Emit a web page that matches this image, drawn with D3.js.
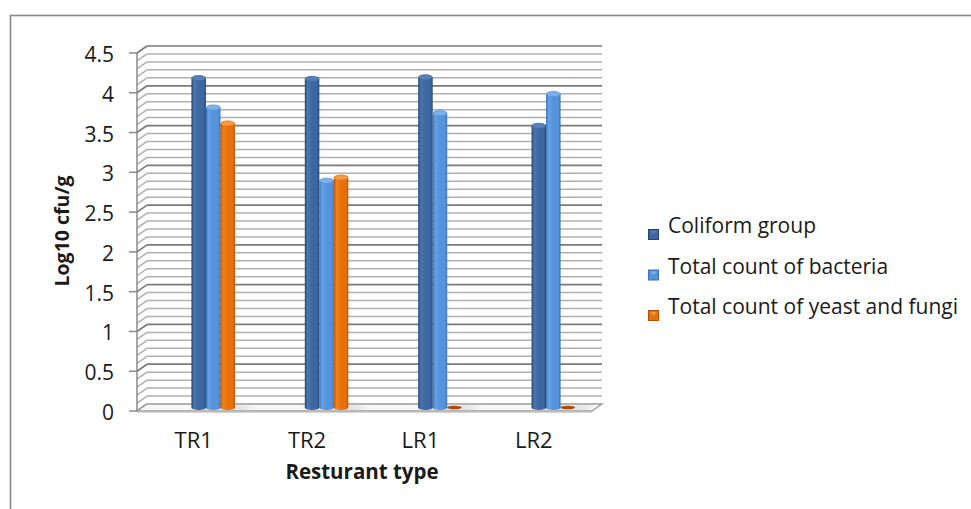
<!DOCTYPE html>
<html>
<head>
<meta charset="utf-8">
<script src="https://cdn.jsdelivr.net/npm/d3@7/dist/d3.min.js"></script>
<style>
  html, body { margin: 0; padding: 0; background: #fff; }
  svg { display: block; font-family: "Open Sans", "DejaVu Sans", sans-serif; }
</style>
</head>
<body>
<svg id="chart" width="971" height="509"></svg>
<script>
// Restaurant types and the three microbial counts (log10 cfu/g)
const categories = ["TR1", "TR2", "LR1", "LR2"];
const seriesNames = ["Coliform group", "Total count of bacteria", "Total count of yeast and fungi"];
const coliform = [4.14, 4.13, 4.15, 3.54];
const bacteria = [3.77, 2.85, 3.70, 3.94];
const yeastFungi = [3.57, 2.89, 0, 0];
const yTicks = [0, 0.5, 1, 1.5, 2, 2.5, 3, 3.5, 4, 4.5];
const yTickLabels = ["0", "0.5", "1", "1.5", "2", "2.5", "3", "3.5", "4", "4.5"];

const seriesValues = [coliform, bacteria, yeastFungi];
const palette = [
  { edge: "#24446d", mid: "#3d67a0", light: "#4a76b0", cap: "#5580b8" },
  { edge: "#3a70b5", mid: "#5593dd", light: "#66a2e8", cap: "#7cb1ee" },
  { edge: "#b55206", mid: "#e8700c", light: "#f5801a", cap: "#f79a45" }
];

const svg = d3.select("#chart");
const defs = svg.append("defs");

// outer chart frame
svg.append("rect")
  .attr("x", 10.5).attr("y", 15.5).attr("width", 1000).attr("height", 600)
  .attr("fill", "none").attr("stroke", "#8a8a8a").attr("stroke-width", 1.6);

// 3D geometry: front axis plane and the depth offset to the back wall
const depthX = 10, depthY = -7;
const axisX = 137, frontRight = 592;
const yFront = d3.scaleLinear().domain([0, 4.5]).range([411, 53]);
const yBar = d3.scaleLinear().domain([0, 4.5]).range([407.5, 49.5]);
const xFront = d3.scaleBand().domain(categories).range([axisX, 590.5]);
const groupShift = 19.5;
const xSeries = d3.scaleBand().domain(seriesNames).range([-21.75, 21.75]);

// gridlines at every 0.1 on side wall and back wall
const minorVals = d3.range(0, 46).map(i => +(i / 10).toFixed(1));
const grid = svg.append("g");
minorVals.forEach(v => {
  const major = Math.abs(v * 2 - Math.round(v * 2)) < 1e-6;
  const yf = yFront(v);
  const color = major ? "#7a7a7a" : "#b0b0b0";
  const w = major ? 1.7 : 1.5;
  // side wall slant
  grid.append("line")
    .attr("x1", axisX).attr("y1", yf)
    .attr("x2", axisX + depthX).attr("y2", yf + depthY)
    .attr("stroke", color).attr("stroke-width", w);
  // back wall line
  if (v > 0) {
    grid.append("line")
      .attr("x1", axisX + depthX).attr("y1", yf + depthY)
      .attr("x2", frontRight + depthX).attr("y2", yf + depthY)
      .attr("stroke", color).attr("stroke-width", w);
  }
});

// floor
const floorG = svg.append("g");
floorG.append("path")
  .attr("d", `M${axisX},${yFront(0)} L${frontRight},${yFront(0)} L${frontRight + depthX},${yFront(0) + depthY} L${axisX + depthX},${yFront(0) + depthY} Z`)
  .attr("fill", "#f7f7f7").attr("stroke", "#9a9a9a").attr("stroke-width", 1.3);
floorG.append("line")
  .attr("x1", axisX).attr("y1", yFront(0) + 1.2)
  .attr("x2", frontRight).attr("y2", yFront(0) + 1.2)
  .attr("stroke", "#c8c8c8").attr("stroke-width", 1.2);

// vertical value axis
const axisG = svg.append("g");
axisG.append("line")
  .attr("x1", axisX).attr("y1", yFront(4.5))
  .attr("x2", axisX).attr("y2", yFront(0))
  .attr("stroke", "#8a8a8a").attr("stroke-width", 1.5);
yTicks.forEach((t, i) => {
  axisG.append("line")
    .attr("x1", axisX - 8).attr("y1", yFront(t))
    .attr("x2", axisX).attr("y2", yFront(t))
    .attr("stroke", "#8a8a8a").attr("stroke-width", 1.5);
  axisG.append("text")
    .attr("x", 114).attr("y", yFront(t) + 1)
    .attr("text-anchor", "end").attr("dominant-baseline", "central")
    .attr("font-size", 21).attr("fill", "#1a1a1a")
    .text(yTickLabels[i]);
});

// soft floor shadows
defs.append("filter").attr("id", "soft")
  .attr("x", "-50%").attr("y", "-200%").attr("width", "200%").attr("height", "500%")
  .append("feGaussianBlur").attr("stdDeviation", 2.5);

// cylinder gradients
palette.forEach((p, i) => {
  const g = defs.append("linearGradient").attr("id", "body" + i)
    .attr("x1", "0").attr("x2", "1").attr("y1", "0").attr("y2", "0");
  g.append("stop").attr("offset", "0%").attr("stop-color", p.edge);
  g.append("stop").attr("offset", "18%").attr("stop-color", p.light);
  g.append("stop").attr("offset", "50%").attr("stop-color", p.mid);
  g.append("stop").attr("offset", "85%").attr("stop-color", p.mid);
  g.append("stop").attr("offset", "100%").attr("stop-color", p.edge);
});

const barW = xSeries.bandwidth();
const capRy = 2.6;
const bars = svg.append("g");
categories.forEach((c, ci) => {
  const gx = xFront(c) + xFront.bandwidth() / 2 + groupShift;
  // shadow on floor
  bars.append("ellipse")
    .attr("cx", gx + 8).attr("cy", yBar(0) + 0.5)
    .attr("rx", 30).attr("ry", 2.5)
    .attr("fill", "#bdbdbd").attr("opacity", 0.6)
    .attr("filter", "url(#soft)");
  seriesNames.forEach((s, si) => {
    const v = seriesValues[si][ci];
    const x0 = gx + xSeries(s);
    const cx = x0 + barW / 2;
    const p = palette[si];
    if (v <= 0) {
      bars.append("ellipse")
        .attr("cx", cx).attr("cy", yBar(0))
        .attr("rx", barW / 2).attr("ry", 1.8)
        .attr("fill", "#a84d08");
      return;
    }
    const yTop = yBar(v), yBase = yBar(0);
    bars.append("path")
      .attr("d", `M${x0},${yTop} L${x0},${yBase} A${barW / 2},${capRy} 0 0 0 ${x0 + barW},${yBase} L${x0 + barW},${yTop} Z`)
      .attr("fill", `url(#body${si})`);
    bars.append("ellipse")
      .attr("cx", cx).attr("cy", yTop)
      .attr("rx", barW / 2 - 0.3).attr("ry", capRy)
      .attr("fill", p.cap).attr("stroke", p.mid).attr("stroke-width", 0.8);
  });
});

// category labels
svg.append("g").selectAll("text").data(categories).join("text")
  .attr("x", d => xFront(d) + xFront.bandwidth() / 2)
  .attr("y", 448)
  .attr("text-anchor", "middle")
  .attr("font-size", 22).attr("fill", "#1a1a1a")
  .text(d => d);

// axis titles
svg.append("text")
  .attr("x", 362).attr("y", 479)
  .attr("text-anchor", "middle")
  .attr("font-size", 20.5).attr("font-weight", "bold").attr("fill", "#1a1a1a")
  .text("Resturant type");
svg.append("text")
  .attr("transform", "translate(69,231) rotate(-90)")
  .attr("text-anchor", "middle")
  .attr("font-size", 19.5).attr("font-weight", "bold").attr("fill", "#1a1a1a")
  .text("Log10 cfu/g");

// legend
const legendBase = [233, 273.5, 314];
const legend = svg.append("g");
seriesNames.forEach((s, i) => {
  const p = palette[i];
  const y = legendBase[i];
  legend.append("rect")
    .attr("x", 648.5).attr("y", y - 3.5).attr("width", 10).attr("height", 10)
    .attr("fill", p.mid).attr("stroke", p.edge).attr("stroke-width", 1);
  legend.append("path")
    .attr("d", `M${650},${y - 2} L${653.5},${y + 1.5} L${657},${y - 2} Z`)
    .attr("fill", p.cap);
  legend.append("text")
    .attr("x", 668).attr("y", y)
    .attr("font-size", 21).attr("fill", "#1a1a1a")
    .text(s);
});
</script>
</body>
</html>
